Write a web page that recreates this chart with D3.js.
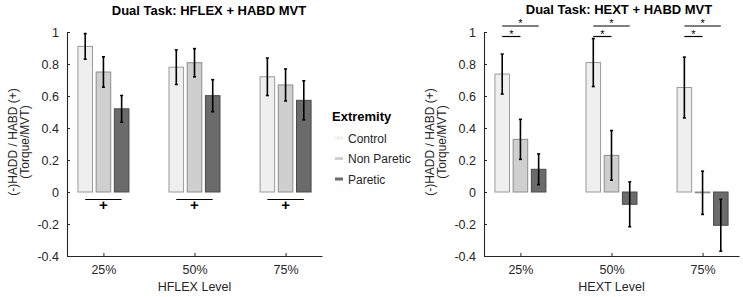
<!DOCTYPE html>
<html>
<head>
<meta charset="utf-8">
<script src="https://cdn.jsdelivr.net/npm/d3@7"></script>
<style>
  body { margin: 0; background: #fff; }
  svg { display: block; font-family: "Liberation Sans", Arial, sans-serif; }
</style>
</head>
<body>
<div id="chart"></div>
<script>
/* Dual task bar charts: HFLEX / HEXT with HABD MVT */

const levels = ["25%", "50%", "75%"];
const extremities = ["Control", "Non Paretic", "Paretic"];
const yTicks = [-0.4, -0.2, 0, 0.2, 0.4, 0.6, 0.8, 1];

// HFLEX panel: means and error half-widths, per level
const flexControl = [0.91, 0.78, 0.72];
const flexControlErr = [0.08, 0.108, 0.117];
const flexNonParetic = [0.75, 0.808, 0.669];
const flexNonPareticErr = [0.095, 0.088, 0.1];
const flexParetic = [0.52, 0.602, 0.573];
const flexPareticErr = [0.083, 0.1, 0.122];

// HEXT panel
const extControl = [0.737, 0.809, 0.653];
const extControlErr = [0.125, 0.15, 0.19];
const extNonParetic = [0.329, 0.229, -0.005];
const extNonPareticErr = [0.125, 0.155, 0.135];
const extParetic = [0.142, -0.077, -0.208];
const extPareticErr = [0.096, 0.14, 0.162];

// significance marks: pairs of extremity indices
const flexPlusPairs = [[0, 2]];
const extStarPairs = [[0, 2], [0, 1]];

const width = 743, height = 297;
const ink = "#262626";
const fills = ["#efefef", "#cfcfcf", "#6b6b6b"];
const edges = ["#9a9a9a", "#8c8c8c", "#4a4a4a"];

const svg = d3.select("#chart").append("svg")
    .attr("width", width)
    .attr("height", height);

function drawPanel(opts) {
    const x = d3.scaleLinear().domain([0.6, 3.4]).range([opts.left, opts.right]);
    const y = d3.scaleLinear().domain([-0.4, 1]).range([256, 32]);
    const g = svg.append("g");

    // bars + error bars
    const series = opts.means.map((m, k) => m.map((v, i) => ({
        k: k, i: i, v: v, e: opts.errs[k][i]
    })));
    const flat = series.flat();
    const offset = k => (k - 1) * 0.2;
    const bw = x(0.16) - x(0);

    g.selectAll(".bar").data(flat).enter().append("rect")
        .attr("class", "bar")
        .attr("x", d => x(d.i + 1 + offset(d.k)) - bw / 2)
        .attr("y", d => y(Math.max(0, d.v)))
        .attr("width", bw)
        .attr("height", d => Math.max(Math.abs(y(d.v) - y(0)), 0.5))
        .attr("fill", d => fills[d.k])
        .attr("stroke", d => edges[d.k])
        .attr("stroke-width", 1);

    const eb = g.selectAll(".err").data(flat).enter().append("g")
        .attr("class", "err")
        .attr("stroke", "#000")
        .attr("stroke-width", 1.6);
    eb.append("line")
        .attr("x1", d => x(d.i + 1 + offset(d.k)))
        .attr("x2", d => x(d.i + 1 + offset(d.k)))
        .attr("y1", d => y(d.v + d.e))
        .attr("y2", d => y(d.v - d.e));
    [1, -1].forEach(s => {
        eb.append("line")
            .attr("x1", d => x(d.i + 1 + offset(d.k)) - 1.5)
            .attr("x2", d => x(d.i + 1 + offset(d.k)) + 1.5)
            .attr("y1", d => y(d.v + s * d.e))
            .attr("y2", d => y(d.v + s * d.e));
    });

    // axes
    const fmt = d => String(+d.toFixed(1));
    const yAxis = g.append("g")
        .attr("transform", `translate(${opts.left},0)`)
        .call(d3.axisLeft(y).tickValues(yTicks).tickFormat(fmt)
            .tickSizeInner(-3).tickSizeOuter(0).tickPadding(8));
    const xAxis = g.append("g")
        .attr("transform", "translate(0,256)")
        .call(d3.axisBottom(x).tickValues([1, 2, 3]).tickFormat((d, i) => levels[i])
            .tickSizeInner(-3).tickSizeOuter(0).tickPadding(9));
    [yAxis, xAxis].forEach(a => {
        a.select(".domain").attr("stroke", ink).attr("stroke-width", 1.1);
        a.selectAll(".tick line").attr("stroke", ink);
        a.selectAll(".tick text").attr("fill", ink)
            .style("font-size", "12.5px")
            .style("font-family", "Liberation Sans, Arial, sans-serif");
    });

    // titles and labels
    g.append("text")
        .attr("x", opts.titleX).attr("y", opts.titleY)
        .attr("text-anchor", "middle")
        .style("font-size", "13px").style("font-weight", "bold")
        .attr("fill", "#000")
        .text(opts.title);
    g.append("text")
        .attr("x", (opts.left + opts.right) / 2).attr("y", 291)
        .attr("text-anchor", "middle")
        .style("font-size", "12.5px").attr("fill", ink)
        .text(opts.xLabel);
    const yl = g.append("text")
        .attr("transform", `translate(${opts.left - 50},142) rotate(-90)`)
        .attr("text-anchor", "middle")
        .style("font-size", "12px").attr("fill", ink);
    yl.append("tspan").attr("x", 0).attr("dy", 0).text("(-)HADD / HABD (+)");
    yl.append("tspan").attr("x", 0).attr("dy", 12).text("(Torque/MVT)");

    // significance marks
    if (opts.plusPairs) {
        levels.forEach((lv, i) => {
            opts.plusPairs.forEach(p => {
                const x1 = x(i + 1 + offset(p[0])), x2 = x(i + 1 + offset(p[1]));
                g.append("line")
                    .attr("x1", x1).attr("x2", x2)
                    .attr("y1", 199.5).attr("y2", 199.5)
                    .attr("stroke", "#000").attr("stroke-width", 1.2);
                g.append("text")
                    .attr("x", (x1 + x2) / 2).attr("y", 210)
                    .attr("text-anchor", "middle")
                    .style("font-size", "15px").style("font-weight", "bold")
                    .text("+");
            });
        });
    }
    if (opts.starPairs) {
        const lineY = [26, 36.5];
        levels.forEach((lv, i) => {
            opts.starPairs.forEach((p, j) => {
                const x1 = x(i + 1 + offset(p[0])), x2 = x(i + 1 + offset(p[1]));
                g.append("line")
                    .attr("x1", x1).attr("x2", x2)
                    .attr("y1", lineY[j]).attr("y2", lineY[j])
                    .attr("stroke", "#000").attr("stroke-width", 1.2);
                g.append("text")
                    .attr("x", (x1 + x2) / 2).attr("y", lineY[j] + 1)
                    .attr("text-anchor", "middle")
                    .style("font-size", "11px")
                    .text("*");
            });
        });
    }
}

drawPanel({
    left: 67, right: 322,
    means: [flexControl, flexNonParetic, flexParetic],
    errs: [flexControlErr, flexNonPareticErr, flexPareticErr],
    title: "Dual Task: HFLEX + HABD MVT", titleX: 209, titleY: 15,
    xLabel: "HFLEX Level",
    plusPairs: flexPlusPairs
});

drawPanel({
    left: 484, right: 739,
    means: [extControl, extNonParetic, extParetic],
    errs: [extControlErr, extNonPareticErr, extPareticErr],
    title: "Dual Task: HEXT + HABD MVT", titleX: 619, titleY: 13.5,
    xLabel: "HEXT Level",
    starPairs: extStarPairs
});

// legend
const legend = svg.append("g").attr("transform", "translate(332,0)");
legend.append("text")
    .attr("x", 0).attr("y", 120.5)
    .style("font-size", "13px").style("font-weight", "bold")
    .attr("fill", "#000")
    .text("Extremity");
const ly = d3.scaleLinear().domain([0, 2]).range([142.5, 183.5]);
const items = legend.selectAll(".item").data(extremities).enter().append("g")
    .attr("class", "item")
    .attr("transform", (d, i) => `translate(0,${ly(i)})`);
items.append("rect")
    .attr("x", 3).attr("y", -6)
    .attr("width", 8).attr("height", 3)
    .attr("fill", (d, i) => fills[i]);
items.append("text")
    .attr("x", 16).attr("y", 0)
    .style("font-size", "12px").attr("fill", ink)
    .text(d => d);
</script>
</body>
</html>
